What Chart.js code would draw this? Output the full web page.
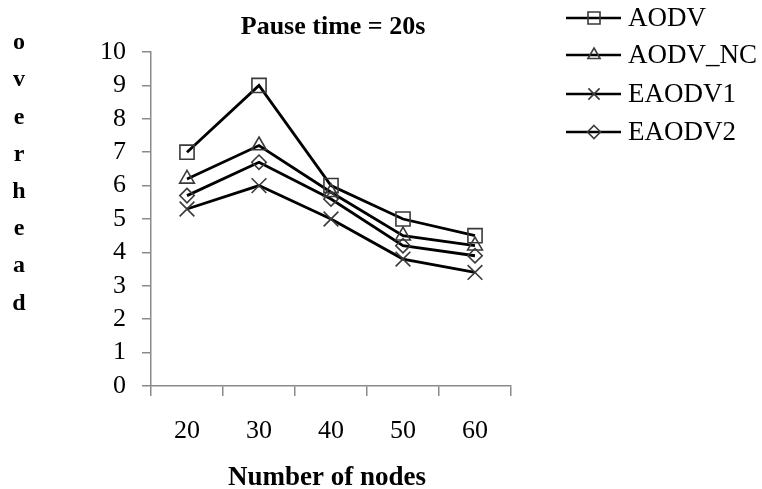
<!DOCTYPE html>
<html><head><meta charset="utf-8">
<script src="https://cdn.jsdelivr.net/npm/chart.js@4/dist/chart.umd.min.js"></script>
<style>html,body{margin:0;padding:0;background:#fff}#wrap{width:762px;height:489px;position:relative}</style>
</head><body><div id="wrap"><canvas id="c" width="762" height="489"></canvas></div>
<script>
const categories = ['20','30','40','50','60'];
const seriesNames = ['AODV','AODV_NC','EAODV1','EAODV2'];
const aodv    = [7.0, 9.0, 6.0, 5.0, 4.5];
const aodvNC  = [6.2, 7.2, 5.8, 4.5, 4.2];
const eaodv1  = [5.3, 6.0, 5.0, 3.8, 3.4];
const eaodv2  = [5.7, 6.7, 5.6, 4.2, 3.9];
const yTicks  = [0,1,2,3,4,5,6,7,8,9,10];
const chartTitle = 'Pause time = 20s';
const xTitle = 'Number of nodes';
const yTitle = 'overhead';

const styles = ['rect','triangle','crossRot','rectRot'];
const radii = [10, 8.5, 10.5, 7.2];
const legendRadii = [8.5, 7, 8, 6.5];
const serif = '"Liberation Serif", "Times New Roman", serif';

function drawMarker(ctx, style, x, y, r){
  ctx.save();
  ctx.strokeStyle = '#3a3a3a'; ctx.lineWidth = 1.6;
  ctx.beginPath();
  if(style==='rect'){const s=r*Math.SQRT1_2; ctx.rect(x-s,y-s,2*s,2*s);}
  else if(style==='triangle'){ctx.moveTo(x,y-r);ctx.lineTo(x+r*0.866,y+r*0.5);ctx.lineTo(x-r*0.866,y+r*0.5);ctx.closePath();}
  else if(style==='crossRot'){const s=r*0.7;ctx.moveTo(x-s,y-s);ctx.lineTo(x+s,y+s);ctx.moveTo(x+s,y-s);ctx.lineTo(x-s,y+s);}
  else if(style==='rectRot'){ctx.moveTo(x,y-r);ctx.lineTo(x+r,y);ctx.lineTo(x,y+r);ctx.lineTo(x-r,y);ctx.closePath();}
  ctx.stroke(); ctx.restore();
}

const decor = {
  id:'decor',
  afterDraw(chart){
    const ctx = chart.ctx;
    ctx.save();
    ctx.fillStyle='#000';
    ctx.textAlign='center'; ctx.textBaseline='middle';
    ctx.font = 'bold 26px '+serif;
    ctx.fillText(chartTitle, 333, 27);
    ctx.font = 'bold 27px '+serif;
    ctx.fillText(xTitle, 327, 478);
    ctx.font = 'bold 24px '+serif;
    yTitle.split('').forEach((ch,i)=>ctx.fillText(ch, 19, 43 + i*37.2));
    const rows=[18,55,94,132];
    seriesNames.forEach((n,i)=>{
      ctx.strokeStyle='#000'; ctx.lineWidth=2.5;
      ctx.beginPath(); ctx.moveTo(566,rows[i]); ctx.lineTo(621,rows[i]); ctx.stroke();
      drawMarker(ctx, styles[i], 594, rows[i], legendRadii[i]);
      ctx.fillStyle='#000'; ctx.textAlign='left'; ctx.font='27px '+serif;
      ctx.fillText(n, 628, rows[i]+1);
    });
    ctx.restore();
  }
};

const markerPlugin = {
  id:'markers',
  afterDatasetsDraw(chart){
    const ctx=chart.ctx;
    chart.data.datasets.forEach((ds,i)=>{
      const meta=chart.getDatasetMeta(i);
      meta.data.forEach(p=>drawMarker(ctx, styles[i], p.x, p.y, radii[i]));
    });
  }
};

const dataSets=[aodv,aodvNC,eaodv1,eaodv2];
new Chart(document.getElementById('c'),{
  type:'line',
  data:{labels:categories, datasets: dataSets.map((d,i)=>({label:seriesNames[i],data:d,borderColor:'#000',borderWidth:2.8,pointRadius:0,tension:0,fill:false}))},
  options:{
    responsive:false, animation:false, devicePixelRatio:1,
    layout:{padding:{left:0,top:52,right:251,bottom:0}},
    plugins:{legend:{display:false},title:{display:false},tooltip:{enabled:false}},
    scales:{
      x:{offset:true,
        grid:{offset:true,drawOnChartArea:false,drawTicks:true,tickLength:10,tickColor:'#8a8a8a',lineWidth:1.5},
        border:{color:'#8a8a8a',width:1.5},
        ticks:{color:'#000',font:{family:serif,size:26},padding:20,maxRotation:0,autoSkip:false},
        afterFit(s){s.height=103;}
      },
      y:{min:0,max:10,
        afterBuildTicks(s){s.ticks=yTicks.map(v=>({value:v}));},
        grid:{drawOnChartArea:false,drawTicks:true,tickLength:9,tickColor:'#8a8a8a',lineWidth:1.5},
        border:{color:'#8a8a8a',width:1.5},
        ticks:{color:'#000',font:{family:serif,size:26},padding:16,autoSkip:false},
        afterFit(s){s.width=151;}
      }
    }
  },
  plugins:[markerPlugin,decor]
});
</script></body></html>
